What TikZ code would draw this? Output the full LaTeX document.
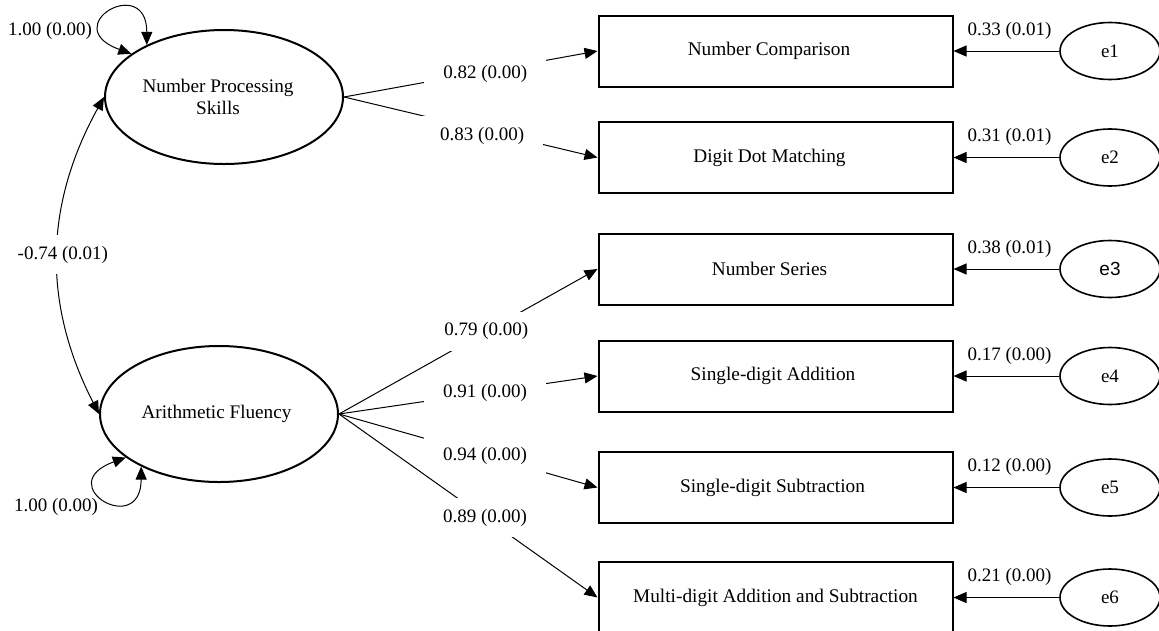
\documentclass[tikz,border=0pt]{standalone}
\usepackage{fontspec}
\setmainfont{Liberation Serif}
\newfontfamily\altsans{Liberation Sans}
\usetikzlibrary{shapes.geometric,arrows.meta}
\begin{document}
\begin{tikzpicture}[x=1pt,y=1pt,
  latent/.style={ellipse, draw, line width=2pt, inner sep=0pt, align=center,
    font=\fontsize{19.2}{22.3}\selectfont},
  obs/.style={rectangle, draw, line width=2pt, minimum width=354pt, minimum height=71pt,
    inner sep=0pt, font=\fontsize{19.3}{22}\selectfont},
  err/.style={ellipse, draw, line width=1.6pt, minimum width=100pt, minimum height=57pt,
    inner sep=0pt, font=\fontsize{19}{22}\selectfont},
  tip/.tip={Triangle[length=13pt,width=11pt]},
  conn/.style={line width=1pt, -tip},
  dbl/.style={line width=1pt, tip-tip},
  lbl/.style={fill=white, font=\fontsize{19}{22}\selectfont, inner xsep=19pt, inner ysep=11pt},
  elbl/.style={font=\fontsize{19}{22}\selectfont, inner sep=2pt},
]
\useasboundingbox (0,0) rectangle (1159,-630);
\clip (0,0) rectangle (1159,-630);

% latent variables
\node[latent, minimum width=238pt, minimum height=134pt] (nps) at (224,-97)
  {Number Processing\hspace*{12pt}\\Skills\hspace*{12pt}};
\node[latent, minimum width=238pt, minimum height=136pt] (af) at (219,-414)
  {Arithmetic Fluency\hspace*{5pt}};

% observed variables
\node[obs] (nc)  at (775.5,-51)    {Number Comparison\hspace*{13pt}};
\node[obs] (ddm) at (775.5,-157.5) {Digit Dot Matching\hspace*{12pt}};
\node[obs] (ns)  at (775.5,-269)   {Number Series\hspace*{12pt}};
\node[obs] (sda) at (775.5,-376)   {Single-digit Addition\hspace*{5pt}};
\node[obs] (sds) at (775.5,-487.5) {Single-digit Subtraction\hspace*{6pt}};
\node[obs] (mas) at (775.5,-597.5) {Multi-digit Addition and Subtraction};

% error terms
\node[err] (e1) at (1110,-51)    {e1};
\node[err] (e2) at (1110,-157.5) {e2};
\node[err] (e3) at (1110,-269)   {\altsans e3};
\node[err] (e4) at (1110,-376)   {e4};
\node[err] (e5) at (1110,-487.5) {e5};
\node[err] (e6) at (1110,-597.5) {e6};

% loadings
\draw[conn] (nps.east) -- node[lbl, pos=0.557, yshift=-3pt] {0.82 (0.00)} (nc.west);
\draw[conn] (nps.east) -- node[lbl, pos=0.545, yshift=-6pt] {0.83 (0.00)} (ddm.west);
\draw[conn] (af.east) -- node[lbl, pos=0.57] {0.79 (0.00)} (ns.west);
\draw[conn] (af.east) -- node[lbl, pos=0.565] {0.91 (0.00)} (sda.west);
\draw[conn] (af.east) -- node[lbl, pos=0.565] {0.94 (0.00)} (sds.west);
\draw[conn] (af.east) -- node[lbl, pos=0.565] {0.89 (0.00)} (mas.west);

% covariance
\draw[dbl] (nps.west) to[bend right=28] node[lbl, pos=0.5, xshift=5pt] {-0.74 (0.01)} (af.west);

% variances
\draw[dbl] (nps.155) .. controls +(160:80) and +(90:72) .. (nps.146);
\draw[dbl] (af.205) .. controls +(200:80) and +(270:72) .. (af.214);
\node[elbl] (v1) at (50,-31)  {1.00 (0.00)};
\node[elbl] (v2) at (56,-507) {1.00 (0.00)};

% residuals
\draw[conn] (e1) -- node[elbl, above=9pt, pos=0.47] {0.33 (0.01)} (nc);
\draw[conn] (e2) -- node[elbl, above=9pt, pos=0.47] {0.31 (0.01)} (ddm);
\draw[conn] (e3) -- node[elbl, above=9pt, pos=0.47] {0.38 (0.01)} (ns);
\draw[conn] (e4) -- node[elbl, above=9pt, pos=0.47] {0.17 (0.00)} (sda);
\draw[conn] (e5) -- node[elbl, above=9pt, pos=0.47] {0.12 (0.00)} (sds);
\draw[conn] (e6) -- node[elbl, above=9pt, pos=0.47] {0.21 (0.00)} (mas);
\end{tikzpicture}
\end{document}
